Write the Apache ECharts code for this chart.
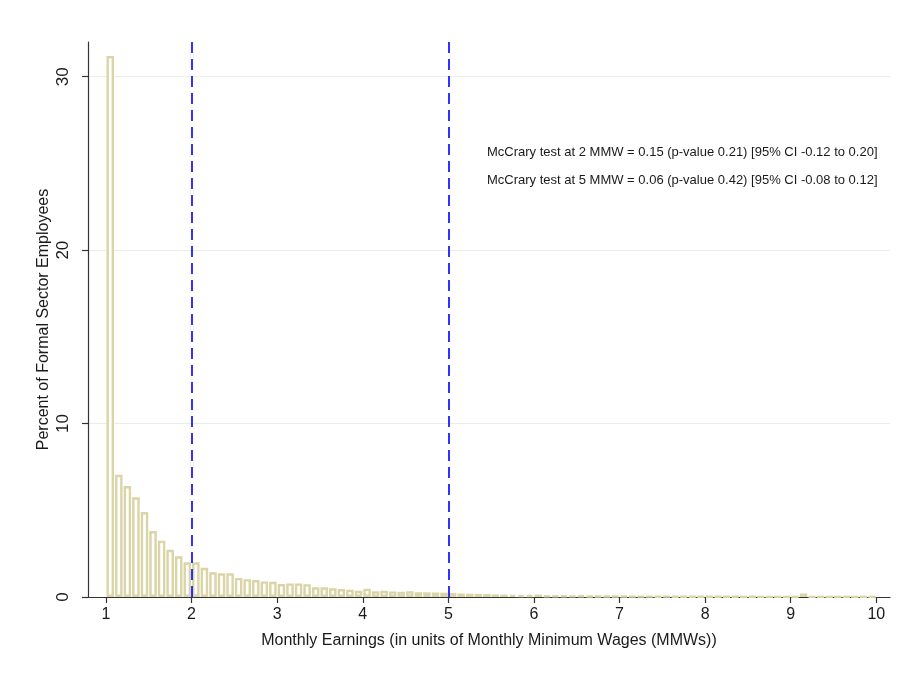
<!DOCTYPE html>
<html>
<head>
<meta charset="utf-8">
<script src="https://cdn.jsdelivr.net/npm/echarts@6/dist/echarts.min.js"></script>
<style>html,body{margin:0;padding:0;background:#fff}#c{width:902px;height:673px}</style>
</head>
<body>
<div id="c"></div>
<script>
// Histogram bins: left edge of each 0.1-wide bin (units of MMW)
const binWidth = 0.1;
const binStarts = [
  1.0,1.1,1.2,1.3,1.4,1.5,1.6,1.7,1.8,1.9,
  2.0,2.1,2.2,2.3,2.4,2.5,2.6,2.7,2.8,2.9,
  3.0,3.1,3.2,3.3,3.4,3.5,3.6,3.7,3.8,3.9,
  4.0,4.1,4.2,4.3,4.4,4.5,4.6,4.7,4.8,4.9,
  5.0,5.1,5.2,5.3,5.4,5.5,5.6,5.7,5.8,5.9,
  6.0,6.1,6.2,6.3,6.4,6.5,6.6,6.7,6.8,6.9,
  7.0,7.1,7.2,7.3,7.4,7.5,7.6,7.7,7.8,7.9,
  8.0,8.1,8.2,8.3,8.4,8.5,8.6,8.7,8.8,8.9,
  9.0,9.1,9.2,9.3,9.4,9.5,9.6,9.7,9.8,9.9
];
// Percent of formal sector employees in each bin
const percents = [
  31.2,7.05,6.4,5.75,4.9,3.8,3.25,2.72,2.35,2.0,
  2.0,1.68,1.42,1.37,1.37,1.1,1.03,0.98,0.9,0.88,
  0.75,0.78,0.78,0.74,0.56,0.56,0.5,0.46,0.42,0.36,
  0.48,0.33,0.36,0.32,0.3,0.33,0.28,0.27,0.26,0.25,
  0.24,0.2,0.19,0.18,0.17,0.15,0.14,0.13,0.12,0.11,
  0.14,0.09,0.08,0.08,0.07,0.08,0.06,0.06,0.05,0.05,
  0.06,0.04,0.04,0.04,0.035,0.04,0.03,0.03,0.03,0.03,
  0.03,0.025,0.025,0.025,0.02,0.025,0.02,0.02,0.02,0.02,
  0.02,0.2,0.02,0.015,0.015,0.015,0.015,0.01,0.01,0.01
];
const xTicks = [1,2,3,4,5,6,7,8,9,10];
const yTicks = [0,10,20,30];
const cutoffs = [2,5];
const notes = [
  'McCrary test at 2 MMW = 0.15 (p-value 0.21) [95% CI -0.12 to 0.20]',
  'McCrary test at 5 MMW = 0.06 (p-value 0.42) [95% CI -0.08 to 0.12]'
];

const FONT = '"Liberation Sans", Arial, sans-serif';
const barData = binStarts.map((s, i) => [s + binWidth / 2, percents[i]]);

const chart = echarts.init(document.getElementById('c'), null, {renderer: 'canvas'});
chart.setOption({
  animation: false,
  backgroundColor: '#ffffff',
  grid: {left: 88, right: 12, top: 42, bottom: 76, containLabel: false},
  xAxis: {
    type: 'value',
    min: 0.79, max: 10.16,
    name: 'Monthly Earnings (in units of Monthly Minimum Wages (MMWs))',
    nameLocation: 'middle', nameGap: 36,
    nameTextStyle: {fontFamily: FONT, fontSize: 16, color: '#1a1a1a'},
    axisLine: {show: true, onZero: false, lineStyle: {color: '#333', width: 1.2}},
    axisTick: {show: true, length: 6, customValues: xTicks, lineStyle: {color: '#333', width: 1.2}},
    axisLabel: {customValues: xTicks, fontFamily: FONT, fontSize: 16, color: '#1a1a1a', margin: 10},
    splitLine: {show: false}
  },
  yAxis: {
    type: 'value',
    min: 0, max: 32,
    name: 'Percent of Formal Sector Employees',
    nameLocation: 'middle', nameGap: 36, nameRotate: 90,
    nameMoveOverlap: false,
    nameTextStyle: {fontFamily: FONT, fontSize: 16, color: '#1a1a1a'},
    axisLine: {show: true, lineStyle: {color: '#333', width: 1.2}},
    axisTick: {show: true, length: 6, customValues: yTicks, lineStyle: {color: '#333', width: 1.2}},
    axisLabel: {customValues: yTicks, rotate: 90, fontFamily: FONT, fontSize: 17, color: '#1a1a1a', margin: 16},
    splitLine: {show: true, lineStyle: {color: '#e6eff0', width: 1}}
  },
  series: [{
    type: 'bar',
    data: barData,
    barWidth: 7.5,
    itemStyle: {color: '#ffffff', borderColor: '#dad4a6', borderWidth: 2.4},
    markLine: {
      silent: true,
      symbol: ['none', 'none'],
      label: {show: false},
      lineStyle: {color: '#0000ff', type: [11, 6], width: 1.6},
      data: cutoffs.map(v => ({xAxis: v}))
    }
  }],
  graphic: notes.map((t, i) => ({
    type: 'text',
    left: 487,
    top: 146 + i * 28,
    style: {text: t, fontFamily: FONT, fontSize: 13, fill: '#1a1a1a'}
  }))
});
</script>
</body>
</html>
